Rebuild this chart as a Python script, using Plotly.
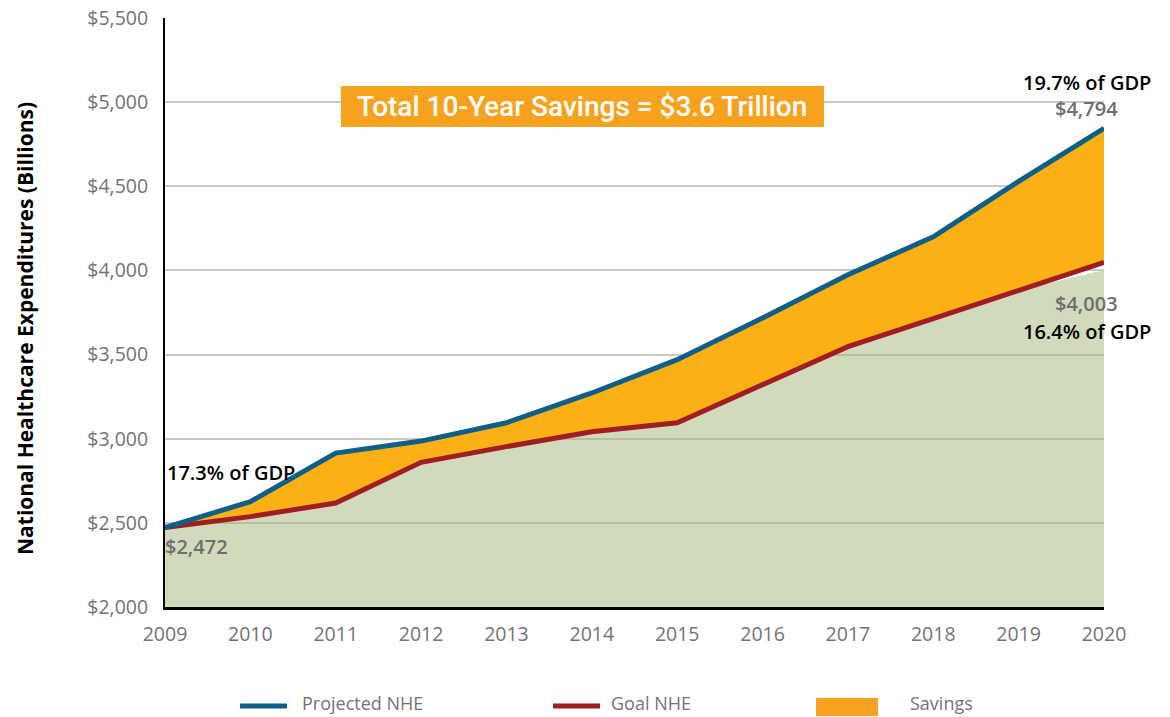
import plotly.graph_objects as go

years = [2009, 2010, 2011, 2012, 2013, 2014, 2015, 2016, 2017, 2018, 2019, 2020]
projected_nhe = [2472, 2626, 2915, 2986, 3095, 3272, 3470, 3717, 3975, 4200, 4530, 4845]
goal_nhe = [2472, 2537, 2618, 2860, 2953, 3042, 3095, 3320, 3547, 3714, 3881, 4048]
base_area = [2472, 2537, 2618, 2860, 2953, 3042, 3095, 3320, 3547, 3714, 3881, 4003]
y_ticks = [2000, 2500, 3000, 3500, 4000, 4500, 5000, 5500]
y_tick_labels = ["$2,000", "$2,500", "$3,000", "$3,500", "$4,000", "$4,500", "$5,000", "$5,500"]
legend_names = ["Projected NHE", "Goal NHE", "Savings"]

BLUE = "#0e5f87"
RED = "#a11d24"
ORANGE = "#fbb116"
ORANGE_BOX = "#f7a21f"
GRAY = "#737373"
OPEN = "Open Sans, Noto Sans, sans-serif"
ROBOTO = "Roboto, sans-serif"

fig = go.Figure()

# green base area (semi transparent so gridlines show through)
fig.add_trace(go.Scatter(x=years, y=base_area, mode="lines", line=dict(width=0),
                         fill="tozeroy", fillcolor="rgba(163,182,118,0.5)",
                         showlegend=False, hoverinfo="skip"))
# savings band: goal (lower) then projected filled to it
fig.add_trace(go.Scatter(x=years, y=goal_nhe, mode="lines", line=dict(width=0),
                         showlegend=False, hoverinfo="skip"))
fig.add_trace(go.Scatter(x=years, y=projected_nhe, mode="lines", line=dict(width=0),
                         fill="tonexty", fillcolor=ORANGE, name=legend_names[2],
                         showlegend=False))
fig.add_trace(go.Scatter(x=years, y=goal_nhe, mode="lines", line=dict(color=RED, width=5),
                         name=legend_names[1], showlegend=False))
fig.add_trace(go.Scatter(x=years, y=projected_nhe, mode="lines", line=dict(color=BLUE, width=5),
                         name=legend_names[0], showlegend=False))

fig.update_xaxes(range=[2009, 2020], tickvals=years, ticktext=[str(y) for y in years],
                 showgrid=False, zeroline=False, showline=True, linecolor="black", linewidth=3,
                 ticks="", ticklabelstandoff=8, automargin=False, ticklabeloverflow="allow",
                 tickfont=dict(family=OPEN, size=19.5, color=GRAY))
fig.update_yaxes(range=[2000, 5500.5], tickvals=y_ticks, ticktext=y_tick_labels,
                 showgrid=True, gridcolor="#c9c9c9", gridwidth=1.5, zeroline=False,
                 showline=True, linecolor="black", linewidth=2, ticks="", ticklabelstandoff=11,
                 automargin=False, ticklabeloverflow="allow",
                 tickfont=dict(family=OPEN, size=19.5, color=GRAY))

# y-axis title
fig.add_annotation(xref="paper", yref="paper", x=-0.1491, y=0.4737, xanchor="center", yanchor="middle",
                   textangle=-90, showarrow=False,
                   text="<b>National Healthcare Expenditures (Billions)</b>",
                   font=dict(family=OPEN, size=21, color="black"))

# title box
fig.add_shape(type="rect", xref="paper", yref="paper", x0=0.1874, x1=0.7018, y0=0.8149, y1=0.8846,
              fillcolor=ORANGE_BOX, line=dict(width=0), layer="above")
fig.add_annotation(xref="paper", yref="paper", x=0.4446, y=0.8497, xanchor="center", yanchor="middle",
                   showarrow=False, text="Total 10-Year Savings = $3.6 Trillion",
                   font=dict(family=ROBOTO, size=28, color="white", weight=500))

ann_black = dict(family=OPEN, size=20, color="black", weight=600)
ann_gray = dict(family=OPEN, size=20, color="#6e6e6e", weight=600)
fig.add_annotation(x=2019.8, y=5120, text="19.7% of GDP", showarrow=False, font=ann_black)
fig.add_annotation(x=2019.8, y=4965, text="$4,794", showarrow=False, font=ann_gray)
fig.add_annotation(x=2019.8, y=3806, text="$4,003", showarrow=False, font=ann_gray)
fig.add_annotation(x=2019.8, y=3640, text="16.4% of GDP", showarrow=False, font=ann_black)
fig.add_annotation(x=2009, y=2802, xanchor="left", text="17.3% of GDP", showarrow=False, font=ann_black)
fig.add_annotation(x=2009, y=2362, xanchor="left", xshift=-2, text="$2,472", showarrow=False, font=ann_gray)

# custom legend
leg_y = -0.168
fig.add_shape(type="line", xref="paper", yref="paper", x0=0.0799, x1=0.1299, y0=leg_y, y1=leg_y,
              line=dict(color=BLUE, width=5))
fig.add_shape(type="line", xref="paper", yref="paper", x0=0.4132, x1=0.4633, y0=leg_y, y1=leg_y,
              line=dict(color=RED, width=5))
fig.add_shape(type="rect", xref="paper", yref="paper", x0=0.6933, x1=0.7593, y0=-0.1851, y1=-0.1545,
              fillcolor=ORANGE_BOX, line=dict(width=0))
for xpos, name in zip([0.1438, 0.4728, 0.7913], legend_names):
    fig.add_annotation(xref="paper", yref="paper", x=xpos, y=-0.163, xanchor="left", yanchor="middle",
                       text=name, showarrow=False, font=dict(family=OPEN, size=18, color=GRAY))

fig.update_layout(width=1170, height=717, margin=dict(l=165, r=66, t=18, b=110),
                  plot_bgcolor="white", paper_bgcolor="white", showlegend=False)

fig.write_html("out.html", config={"displayModeBar": False},
               post_script="document.body.style.margin='0';document.body.style.overflow='hidden';")
